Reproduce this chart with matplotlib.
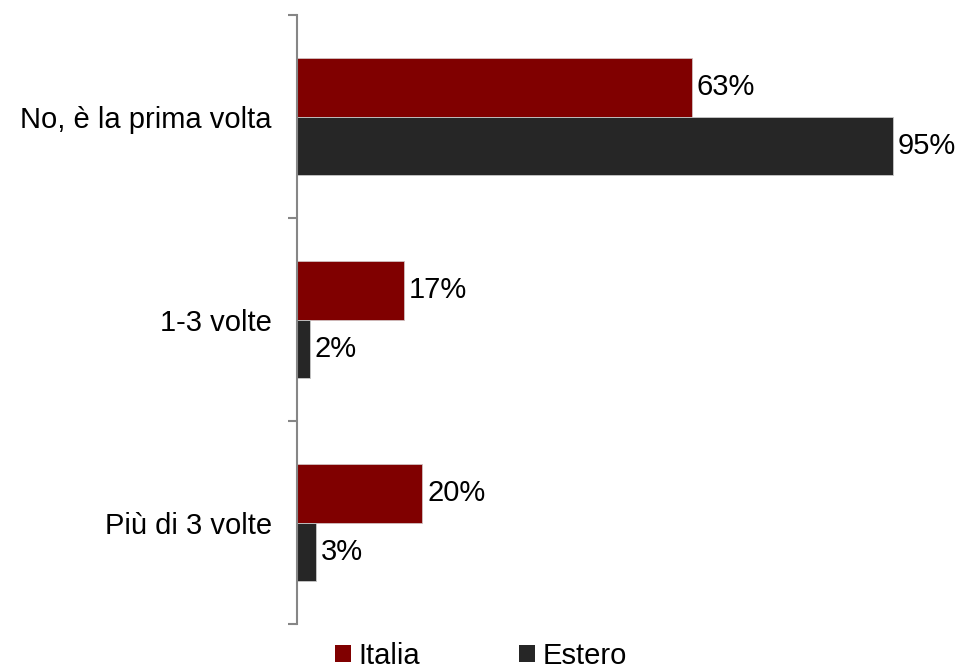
import numpy as np
import matplotlib.pyplot as plt
from matplotlib.patches import Patch

categories = ["No, è la prima volta", "1-3 volte", "Più di 3 volte"]
italia = [63, 17, 20]
estero = [95, 2, 3]
series_names = ["Italia", "Estero"]
colors = ["#800000", "#262626"]

plt.rcParams["font.family"] = ["Liberation Sans", "DejaVu Sans"]

fig = plt.figure(figsize=(9.65, 6.71), dpi=100)
ax = fig.add_axes([297 / 965, 1 - 624 / 671, 627 / 965, (624 - 15) / 671])

y = np.arange(len(categories))
h = 0.288

bars_it = ax.barh(y - h / 2, italia, height=h, color=colors[0],
                  edgecolor="#d0c0c0", linewidth=0.6)
bars_es = ax.barh(y + h / 2, estero, height=h, color=colors[1],
                  edgecolor="#c8c8c8", linewidth=0.6)

ax.bar_label(bars_it, labels=[f"{v}%" for v in italia], padding=3.5, fontsize=21)
ax.bar_label(bars_es, labels=[f"{v}%" for v in estero], padding=3.5, fontsize=21)

ax.set_xlim(0, 100)
ax.set_ylim(len(categories) - 0.5, -0.5)

# major ticks mark the category boundaries, minor ticks carry the labels
ax.set_yticks(np.arange(-0.5, len(categories), 1.0))
ax.set_yticklabels([])
ax.set_yticks(y, minor=True)
ax.set_yticklabels(categories, minor=True, fontsize=21)
ax.tick_params(axis="y", which="major", length=6.5, width=1.5, color="#868686", direction="out")
ax.tick_params(axis="y", which="minor", length=0, pad=18)

ax.set_xticks([])
for side in ["top", "right", "bottom"]:
    ax.spines[side].set_visible(False)
ax.spines["left"].set_color("#868686")
ax.spines["left"].set_linewidth(1.5)

handles = [Patch(facecolor=c, edgecolor="none") for c in colors]
fig.legend(handles, series_names, loc="center", bbox_to_anchor=(481 / 965, 1 - 656 / 671),
           ncol=2, frameon=False, fontsize=21, handlelength=0.55, handleheight=0.55,
           handletextpad=0.25, columnspacing=3.4, borderpad=0)

fig.savefig("out.png", dpi=100)
